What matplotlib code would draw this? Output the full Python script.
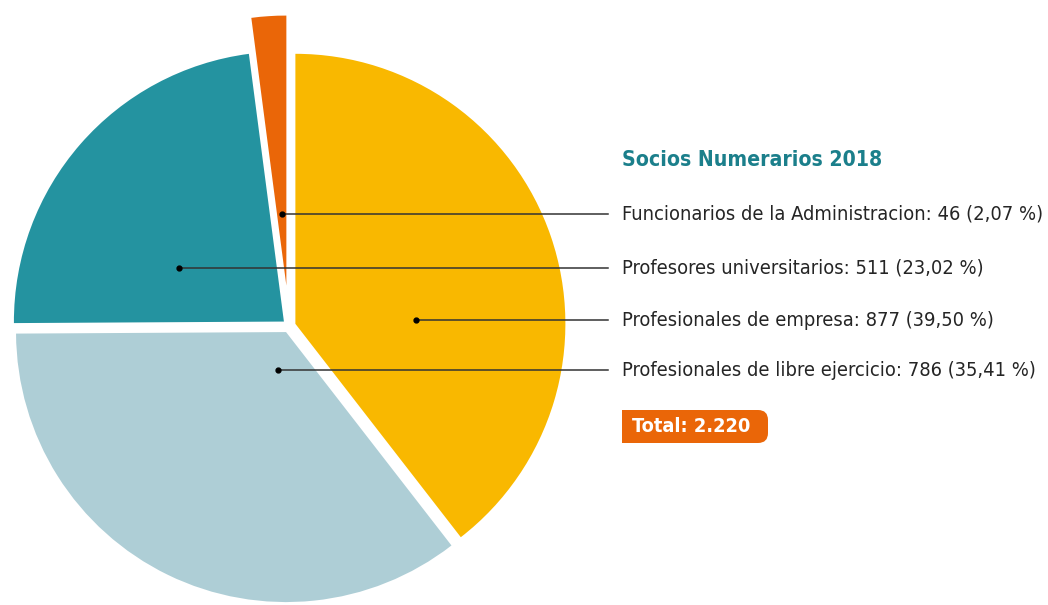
import matplotlib.pyplot as plt
from matplotlib.patches import FancyBboxPatch, Rectangle

# datos
categorias = ["Profesionales de empresa", "Profesionales de libre ejercicio",
              "Profesores universitarios", "Funcionarios de la Administracion"]
socios = [877, 786, 511, 46]
porcentajes = ["39,50", "35,41", "23,02", "2,07"]
total = "2.220"
colores = ["#F9B800", "#AECED6", "#2493A0", "#EA6608"]

# orden de las etiquetas (de arriba a abajo) y su posicion en px
orden_etiquetas = [3, 2, 0, 1]
y_etiquetas = [214, 268, 320, 370]
x_puntos = [282, 179, 416, 278]

W, H = 1048, 605
cx, cy, R = 289, 326, 270

plt.rcParams['font.family'] = ['DejaVu Sans']
plt.rcParams['font.stretch'] = 'condensed'

fig = plt.figure(figsize=(W / 100, H / 100), dpi=100)
ax = fig.add_axes([0, 0, 1, 1])
ax.pie(socios, colors=colores, startangle=90, counterclock=False,
       explode=[0.025, 0.025, 0.025, 0.15],
       shadow=dict(ox=2.5, oy=-2.5, shade=0.5, alpha=0.4),
       wedgeprops=dict(linewidth=0))
ax.set_xlim(-cx / R, (W - cx) / R)
ax.set_ylim(-(H - cy) / R, cy / R)
ax.set_aspect('equal')
ax.axis('off')

# capa de texto en coordenadas de pixel
tx = fig.add_axes([0, 0, 1, 1])
tx.set_xlim(0, W)
tx.set_ylim(H, 0)
tx.axis('off')
tx.patch.set_alpha(0)

tx.text(622, 160, "Socios Numerarios 2018", fontsize=15.2, fontweight='bold',
        color="#1B7F8B", va='center', ha='left')

for i, y, xp in zip(orden_etiquetas, y_etiquetas, x_puntos):
    tx.plot([xp, 608], [y, y], color="#333333", lw=1.1)
    tx.plot(xp, y, 'o', color="black", ms=3.5)
    tx.text(622, y, f"{categorias[i]}: {socios[i]} ({porcentajes[i]} %)",
            fontsize=14.4, color="#252525", va='center', ha='left')

# caja del total
tx.add_patch(Rectangle((622, 410), 110, 33, color="#EA6608", lw=0))
tx.add_patch(FancyBboxPatch((690, 410), 78, 33, boxstyle="round,pad=0,rounding_size=10",
                            color="#EA6608", lw=0))
tx.text(632, 427, f"Total: {total}", fontsize=14.3, fontweight='bold',
        color="white", va='center', ha='left')

fig.savefig("out.png", dpi=100)
